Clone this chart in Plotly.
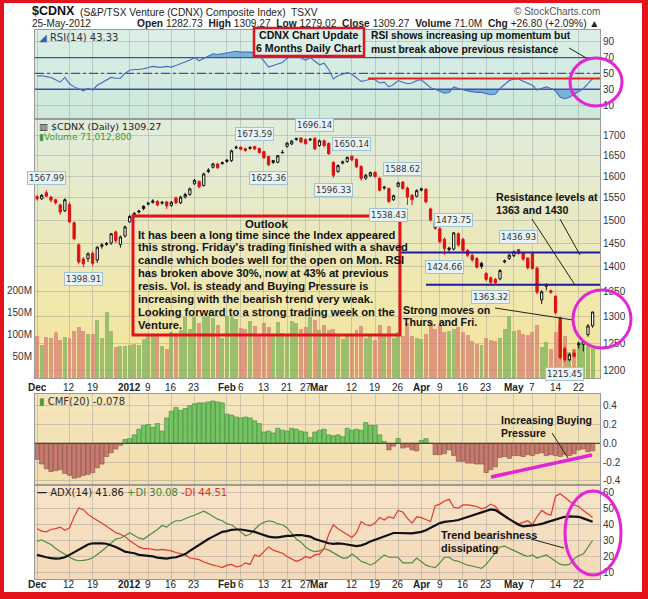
import numpy as np
import plotly.graph_objects as go

# ---------------- data ----------------
tick_idx = [0, 7, 12, 20, 24, 29, 34, 41, 44, 49, 54, 58, 61, 68, 73, 78, 83, 87, 92, 97, 103, 107, 112, 117]
tick_lbl = ['<b>Dec</b>', '12', '19', '<b>2012</b>', '9', '16', '23', '<b>Feb</b>', '6', '13', '21', '27',
            '<b>Mar</b>', '12', '19', '26', '<b>Apr</b>', '9', '16', '23', '<b>May</b>', '7', '14', '22']

opens = [1553, 1548, 1562, 1552, 1546, 1534, 1521, 1535, 1494, 1446,
         1416, 1417, 1428, 1414, 1443, 1447, 1450, 1474, 1447, 1465,
         1496, 1512, 1518, 1531, 1536, 1540, 1542, 1538, 1541, 1533,
         1550, 1539, 1552, 1558, 1583, 1588, 1579, 1612, 1622, 1630,
         1631, 1636, 1638, 1669, 1671, 1667, 1668, 1673, 1668, 1660,
         1648, 1638, 1634, 1657, 1673, 1679, 1690, 1694, 1690, 1689,
         1693, 1675, 1687, 1680, 1634, 1612, 1632, 1636, 1649, 1641,
         1624, 1596, 1602, 1610, 1596, 1573, 1572, 1546, 1577, 1587,
         1573, 1556, 1554, 1568, 1570, 1525, 1496, 1481, 1458, 1436,
         1437, 1470, 1458, 1434, 1424, 1417, 1407, 1386, 1377, 1374,
         1375, 1410, 1417, 1423, 1436, 1428, 1418, 1427, 1397, 1333,
         1360, 1351, 1340, 1298, 1240, 1220, 1232, 1247, 1248, 1266,
         1282.73]
highs = [1557, 1559, 1567.99, 1555, 1548, 1537, 1549, 1540, 1497, 1449,
         1420, 1430, 1432, 1443, 1450, 1452, 1472, 1477, 1466, 1488,
         1512, 1518, 1523, 1533, 1541, 1547, 1545, 1543, 1543, 1543,
         1553, 1555, 1562, 1574, 1594, 1591, 1609, 1620, 1633, 1633,
         1636, 1642, 1665, 1675, 1673, 1670, 1674, 1673.59, 1670, 1662,
         1650, 1640, 1652, 1664, 1684, 1689, 1694, 1696, 1693, 1694,
         1696.14, 1690, 1690, 1683, 1636, 1629, 1638, 1648, 1650.14, 1644,
         1627, 1606, 1612, 1612, 1598, 1578, 1574, 1558, 1588, 1588.62,
         1576, 1559, 1570, 1574, 1573, 1528, 1499, 1484, 1462, 1442,
         1473.75, 1473, 1461, 1437, 1427, 1420, 1410, 1389, 1380, 1377,
         1395, 1415, 1427, 1434, 1436.93, 1431, 1420, 1430, 1400, 1352,
         1366, 1353, 1342, 1300, 1244, 1232, 1238, 1253, 1256, 1286,
         1309.27]
lows = [1544, 1546, 1552, 1540, 1535, 1512, 1518, 1494, 1456, 1405,
        1398.91, 1410, 1402, 1408, 1438, 1444, 1446, 1450, 1440, 1462,
        1494, 1509, 1515, 1522, 1533, 1537, 1531, 1535, 1525, 1530,
        1536, 1536, 1549, 1555, 1580, 1572, 1576, 1608, 1619, 1618,
        1628, 1633, 1635, 1666, 1663, 1660, 1665, 1663, 1655, 1643,
        1625.36, 1630, 1632, 1656, 1670, 1676, 1687, 1681, 1677, 1686,
        1664, 1672, 1671, 1652, 1596.33, 1609, 1629, 1633, 1637, 1620,
        1590, 1592, 1599, 1597, 1565, 1569, 1538.43, 1543, 1574, 1569,
        1534, 1534, 1551, 1565, 1538, 1497, 1478, 1449, 1424.66, 1430,
        1434, 1442, 1431, 1420, 1410, 1396, 1396, 1370, 1363.32, 1364,
        1372, 1407, 1414, 1420, 1425, 1412, 1394, 1395, 1344, 1325,
        1352, 1345, 1305, 1220, 1215.45, 1217, 1224, 1240, 1235, 1262,
        1279.02]
closes = [1548, 1556, 1554, 1545, 1539, 1518, 1546, 1496, 1459, 1410,
          1406, 1427, 1407, 1441, 1446, 1449, 1470, 1455, 1463, 1485,
          1508, 1515, 1520, 1526, 1538, 1543, 1534, 1540, 1532, 1540,
          1539, 1552, 1558, 1571, 1591, 1576, 1606, 1615, 1630, 1621,
          1633, 1639, 1662, 1671, 1666, 1663, 1670, 1667, 1658, 1645,
          1628, 1634, 1650, 1658, 1681, 1686, 1693, 1684, 1680, 1691,
          1667, 1687, 1675, 1655, 1603, 1626, 1635, 1646, 1640, 1623,
          1596, 1603, 1609, 1600, 1568, 1575, 1542, 1555, 1585, 1572,
          1552, 1546, 1567, 1571, 1541, 1500, 1482, 1453, 1438, 1439,
          1472, 1446, 1434, 1424, 1414, 1399, 1401, 1374, 1368, 1367,
          1392, 1412, 1424, 1431, 1428, 1416, 1398, 1396, 1348, 1349,
          1362, 1348, 1308, 1224, 1220, 1229, 1226, 1249, 1253, 1282.47,
          1309.27]
volume_m = [95, 74, 93, 90, 105, 87, 93, 91, 108, 116,
            108, 100, 100, 131, 90, 150, 108, 71, 72, 73,
            76, 78, 76, 88, 100, 100, 98, 72, 66, 105,
            102, 110, 139, 112, 139, 125, 139, 140, 136, 120,
            92, 140, 139, 135, 114, 112, 130, 118, 100, 126,
            115, 95, 128, 102, 100, 130, 125, 112, 115, 138,
            132, 109, 120, 110, 112, 95, 88, 100, 95, 110,
            118, 92, 98, 86, 120, 100, 118, 92, 104, 96,
            125, 95, 92, 88, 99, 130, 112, 120, 105, 108,
            112, 115, 105, 97, 84, 78, 76, 90, 86, 84,
            92, 112, 142, 108, 110, 100, 98, 105, 120, 70,
            82, 66, 105, 125, 95, 59, 66, 82, 80, 78,
            71.0]
rsi14 = [47, 47, 46, 45, 42, 39, 45, 37, 33, 30,
         28, 31, 29, 35, 38, 41, 45, 44, 44, 50,
         54, 55, 55, 56, 58, 59, 58, 58, 59, 58,
         60, 62, 65, 67, 70, 66, 69, 72, 75, 74,
         75, 76, 77, 78, 77, 77, 77, 76, 72, 66,
         58, 60, 62, 64, 69, 73, 72, 70, 67, 70,
         65, 61, 63, 55, 43, 47, 49, 51, 49, 45,
         40, 41, 43, 42, 38, 39, 33, 36, 41, 39,
         37, 38, 41, 42, 37, 32, 30, 27, 25, 26,
         33, 31, 29, 28, 27, 26, 26, 24, 23, 24,
         31, 36, 41, 43, 43, 40, 37, 35, 29, 31,
         33, 31, 28, 20, 18, 20, 24, 27, 31, 37,
         43.33]
cmf20 = [-0.17, -0.22, -0.27, -0.30, -0.29, -0.28, -0.32, -0.34, -0.37, -0.36,
         -0.34, -0.33, -0.31, -0.26, -0.22, -0.14, -0.10, -0.06, -0.02, 0.04,
         0.05, 0.09, 0.15, 0.19, 0.20, 0.17, 0.21, 0.13, 0.27, 0.34,
         0.38, 0.35, 0.37, 0.40, 0.42, 0.43, 0.43, 0.44, 0.45, 0.44,
         0.43, 0.31, 0.30, 0.28, 0.27, 0.28, 0.27, 0.24, 0.21, 0.12,
         0.13, 0.11, 0.16, 0.14, 0.13, 0.16, 0.15, 0.13, 0.12, 0.06,
         0.12, 0.14, 0.15, 0.09, 0.08, 0.09, 0.07, 0.16, 0.14, 0.15,
         0.14, 0.22, 0.19, 0.19, 0.09, 0.02, -0.07, -0.03, 0.05, -0.05,
         -0.04, -0.07, -0.08, 0.03, 0.05, 0.00, -0.12, -0.12, -0.11, -0.07,
         -0.13, -0.19, -0.19, -0.21, -0.21, -0.22, -0.22, -0.31, -0.28, -0.25,
         -0.15, -0.14, -0.16, -0.13, -0.13, -0.14, -0.12, -0.13, -0.11, -0.10,
         -0.13, -0.12, -0.13, -0.14, -0.12, -0.13, -0.11, -0.07, -0.06, -0.09,
         -0.078]
adx14 = [21, 20, 19.5, 19, 18.6, 18.8, 19.5, 21, 22.5, 24.5,
         26, 27.5, 28.3, 28.5, 28.3, 28, 27, 26, 24.5, 23,
         22.5, 22, 21, 20.7, 20.5, 20, 19.3, 19, 18.7, 19.2,
         19.5, 20.5, 21.5, 23.5, 25.5, 27.5, 29.5, 31, 32.5, 34,
         35.5, 36, 36.8, 37, 37, 36.5, 36, 35.5, 34.5, 33.5,
         32.5, 32, 32, 32.5, 33, 33, 33.5, 33.5, 33.2, 32.5,
         31, 30, 29, 28.3, 28, 28.3, 28, 27.5, 27, 26.5,
         27, 28, 29.5, 30.5, 32, 33, 34, 34.8, 34.8, 34.7,
         34.7, 34.5, 35, 35.5, 36.5, 38, 39.5, 41, 41.8, 42,
         42.5, 43, 44, 45, 46, 47, 48, 49, 49.7, 49.2,
         47.5, 45.5, 43.5, 41.5, 40, 39, 39.5, 39.6, 40, 40.5,
         41.5, 42.5, 43, 44, 45, 45.3, 45.3, 45, 44, 43,
         41.86]
plus_di = [29.5, 30.5, 29, 27.5, 25, 23, 21, 19.5, 18, 17.3,
           17.5, 18, 19, 21, 23.5, 26, 28.5, 31, 31.6, 33,
           35, 33.5, 31.5, 31, 33, 34.5, 37, 39.5, 38.5, 41,
           42.5, 42.5, 44, 45, 46, 47.5, 48.5, 47, 45, 43.5,
           42.5, 40.5, 40, 38, 35.5, 33, 34, 37, 40, 41.5,
           42.5, 42, 40.5, 40, 38, 34.5, 31, 29, 26, 24,
           23, 23.5, 25, 24, 22.5, 20.5, 19, 19, 21.5, 19.5,
           17, 16, 14.5, 16, 18.5, 21, 19.5, 19.5, 19.5, 16,
           16, 16, 19, 17, 14.5, 13.5, 13, 16, 19.5, 19.5,
           17.5, 17, 15.5, 14.5, 14, 13, 12.5, 15, 18.5, 22,
           26, 26.5, 25, 24, 22, 21, 20, 21, 19, 20,
           21, 19, 17, 15, 14.5, 15, 18.5, 20.5, 21.5, 25.5,
           30.08]
minus_di = [37.5, 36, 35.5, 37, 37.5, 38.5, 36.5, 38, 45, 50.5,
            49.5, 46.5, 44.5, 43, 41, 39, 37, 35, 34, 32.5,
            30, 28, 26, 25, 25, 24.5, 24, 24.5, 24, 23.5,
            22.5, 21.5, 21, 19, 18.5, 18, 16.5, 15.5, 14.5, 14,
            13, 14.5, 15, 13.5, 14, 16, 15, 21, 20, 23,
            26, 24, 23, 22, 20, 18.5, 17, 18, 20, 19,
            21, 21.5, 25, 34, 40, 37.5, 35.5, 34, 32, 35,
            42, 40, 39.5, 41, 44.5, 43, 45, 44, 49, 48,
            44, 41, 45, 44.5, 43, 42, 52, 53, 55, 56,
            51, 50.5, 52.5, 52.5, 52, 51.5, 50, 51, 53, 51.5,
            48, 45, 43.5, 42, 40.5, 41.5, 42.5, 40, 45, 49,
            47, 46, 58, 59.5, 57.5, 55, 52.5, 51.5, 49, 46.5,
            44.51]

resist_levels = [1430, 1363]
resist_start_idx = [78.6, 84.0]
rsi_resist_level = 43.6
rsi_resist_start_idx = 71.5

# callouts: (index, value, above/below)
callouts = [(2, 1567.99, 'up'), (10, 1398.91, 'dn'), (47, 1673.59, 'up'), (50, 1625.36, 'dn'),
            (60, 1696.14, 'up'), (64, 1596.33, 'dn'), (68, 1650.14, 'up'), (76, 1538.43, 'dn'),
            (79, 1588.62, 'up'), (90, 1473.75, 'up'), (88, 1424.66, 'dn'), (104, 1436.93, 'up'),
            (98, 1363.32, 'dn'), (114, 1215.45, 'dn')]

# ---------------- geometry helpers ----------------
W, H = 648, 599
ML, MR = 35, 48
PW = W - ML - MR


def px(x):
    return (x - ML) / PW


def py(y):
    return 1 - y / H


SANS = "Liberation Sans, Arial, sans-serif"
DV = "DejaVu Sans, Verdana, sans-serif"

n = len(closes)
xi = np.arange(n)
o = np.array(opens, float)
h = np.array(highs, float)
lo = np.array(lows, float)
c = np.array(closes, float)
prev = np.r_[c[0] + 1, c[:-1]]
upday = c > prev

XR = [-0.45, 121.6]
GRID = 'rgba(150,150,150,0.40)'
AXL = '#9a9a9a'

fig = go.Figure()

# ---------- RSI panel ----------
rsi = np.array(rsi14, float)
fig.add_trace(go.Scatter(x=xi, y=np.full(n, 70.0), mode='lines', line=dict(width=0), xaxis='x', yaxis='y',
                         hoverinfo='skip', showlegend=False))
fig.add_trace(go.Scatter(x=xi, y=np.maximum(rsi, 70), mode='lines', line=dict(width=0), fill='tonexty',
                         fillcolor='rgba(95,165,210,0.8)', xaxis='x', yaxis='y', hoverinfo='skip', showlegend=False))
fig.add_trace(go.Scatter(x=xi, y=np.full(n, 30.0), mode='lines', line=dict(width=0), xaxis='x', yaxis='y',
                         hoverinfo='skip', showlegend=False))
fig.add_trace(go.Scatter(x=xi, y=np.minimum(rsi, 30), mode='lines', line=dict(width=0), fill='tonexty',
                         fillcolor='rgba(95,165,210,0.8)', xaxis='x', yaxis='y', hoverinfo='skip', showlegend=False))
for lvl, dash in [(70, 'solid'), (30, 'solid'), (50, 'dashdot')]:
    fig.add_trace(go.Scatter(x=XR, y=[lvl, lvl], mode='lines', line=dict(color='#3b4fb0', width=1.3, dash=dash),
                             xaxis='x', yaxis='y', hoverinfo='skip', showlegend=False))
fig.add_trace(go.Scatter(x=xi, y=rsi, mode='lines', line=dict(color='#4a6cc0', width=1.1),
                         xaxis='x', yaxis='y', showlegend=False))
fig.add_trace(go.Scatter(x=[rsi_resist_start_idx, XR[1]], y=[rsi_resist_level] * 2, mode='lines',
                         line=dict(color='#e8231a', width=2.2), xaxis='x', yaxis='y', showlegend=False))

# ---------- Volume (base axis of price panel) ----------
vol = np.array(volume_m) * 1e6
vcol = np.where(upday, 'rgba(130,180,95,0.78)', 'rgba(214,125,115,0.72)')
fig.add_trace(go.Bar(x=xi, y=vol, marker=dict(color=list(vcol), line=dict(width=0)), width=0.86,
                     xaxis='x2', yaxis='y2', showlegend=False))

# ---------- Price candles (overlay axis) ----------
for mask, col in [(upday, '#111111'), (~upday, '#dd1111')]:
    fig.add_trace(go.Candlestick(x=xi[mask], open=o[mask], high=h[mask], low=lo[mask], close=c[mask],
                                 increasing=dict(line=dict(color=col, width=1), fillcolor='white'),
                                 decreasing=dict(line=dict(color=col, width=1), fillcolor=col),
                                 whiskerwidth=0, xaxis='x2', yaxis='y3', showlegend=False))
for lvl, st in zip(resist_levels, resist_start_idx):
    fig.add_trace(go.Scatter(x=[st, XR[1]], y=[lvl, lvl], mode='lines', line=dict(color='#1b1ba6', width=2),
                             xaxis='x2', yaxis='y3', showlegend=False))

# ---------- CMF ----------
cmf = np.array(cmf20)
fig.add_trace(go.Bar(x=xi, y=cmf, width=0.92,
                     marker=dict(color=list(np.where(cmf >= 0, '#74c465', '#c57b6f')),
                                 line=dict(color=list(np.where(cmf >= 0, '#3e8a34', '#8c4c42')), width=0.6)),
                     xaxis='x3', yaxis='y4', showlegend=False))
fig.add_trace(go.Scatter(x=XR, y=[0, 0], mode='lines', line=dict(color='#444', width=1.4),
                         xaxis='x3', yaxis='y4', showlegend=False))

# ---------- ADX ----------
fig.add_trace(go.Scatter(x=xi, y=minus_di, mode='lines', line=dict(color='#e2392a', width=1.2),
                         xaxis='x4', yaxis='y5', showlegend=False))
fig.add_trace(go.Scatter(x=xi, y=plus_di, mode='lines', line=dict(color='#4f8b42', width=1.2),
                         xaxis='x4', yaxis='y5', showlegend=False))
fig.add_trace(go.Scatter(x=xi, y=adx14, mode='lines', line=dict(color='#111', width=2.2),
                         xaxis='x4', yaxis='y5', showlegend=False))

# ---------- axes ----------
dom_rsi = [py(118.5), py(30)]
dom_px = [py(378), py(118.5)]
dom_cmf = [py(484), py(394)]
dom_adx = [py(579), py(486)]
tickfont = dict(family=SANS, size=10, color='#333')


def xax(anchor):
    return dict(domain=[0, 1], range=XR, tickmode='array', tickvals=tick_idx, ticktext=tick_lbl,
                showticklabels=False, showgrid=True, gridcolor=GRID, gridwidth=1, zeroline=False,
                showline=True, mirror=True, linecolor=AXL, linewidth=1, ticks='', automargin=False,
                anchor=anchor, fixedrange=True, rangeslider=dict(visible=False))


def yax(dom, rng, vals, anchor, txt=None):
    d = dict(domain=dom, range=rng, tickmode='array', tickvals=vals, side='right', showgrid=True,
             gridcolor=GRID, zeroline=False, showline=True, mirror=True, linecolor=AXL, linewidth=1,
             ticks='', tickfont=tickfont, fixedrange=True, automargin=False, anchor=anchor)
    if txt is not None:
        d['ticktext'] = txt
    return d


price_ticks = list(range(1200, 1701, 50))
fig.update_layout(
    template='none',
    width=W, height=H, margin=dict(l=ML, r=MR, t=0, b=0, pad=0, autoexpand=False),
    paper_bgcolor='white', plot_bgcolor='rgba(0,0,0,0)', showlegend=False, bargap=0,
    xaxis=xax('y'),
    xaxis2=dict(xax('y2'), matches='x'),
    xaxis3=dict(xax('y4'), matches='x'),
    xaxis4=dict(xax('y5'), matches='x'),
    yaxis=yax(dom_rsi, [-7, 105], [10, 30, 50, 70, 90], 'x'),
    yaxis2=dict(domain=dom_px, range=[0, 590e6], tickmode='array', tickvals=[50e6, 100e6, 150e6, 200e6],
                ticktext=['50M', '100M', '150M', '200M'], side='left', showgrid=False, zeroline=False,
                showline=True, linecolor=AXL, ticks='', tickfont=tickfont, anchor='x2', fixedrange=True,
                automargin=False),
    yaxis3=dict(domain=dom_px, type='log', range=[np.log10(1187.3), np.log10(1743.5)], tickmode='array',
                tickvals=price_ticks, ticktext=[str(v) for v in price_ticks], side='right', overlaying='y2',
                showgrid=True, gridcolor=GRID, zeroline=False, showline=True, linecolor=AXL, ticks='',
                tickfont=tickfont, anchor='x2', fixedrange=True, automargin=False),
    yaxis4=yax(dom_cmf, [-0.432, 0.524], [-0.4, -0.2, 0, 0.2, 0.4], 'x3',
               ['-0.4', '-0.2', '0.0', '0.2', '0.4']),
    yaxis5=yax(dom_adx, [5.8, 64.4], [10, 20, 30, 40, 50, 60], 'x4'),
)

# ---------- background shapes ----------
shapes = []


def rect(x0, y0, x1, y1, fill, line=None, lw=0, layer='below'):
    shapes.append(dict(type='rect', xref='paper', yref='paper', x0=px(x0), x1=px(x1), y0=py(y1), y1=py(y0),
                       fillcolor=fill, line=dict(color=line or 'rgba(0,0,0,0)', width=lw), layer=layer))


def grad(y0, y1, c0, c1, steps):
    for k in range(steps):
        t = k / (steps - 1)
        col = 'rgb(%d,%d,%d)' % tuple(int(round(a + (b - a) * t)) for a, b in zip(c0, c1))
        ya = y0 + (y1 - y0) * k / steps
        yb = y0 + (y1 - y0) * (k + 1) / steps + 0.6
        rect(ML, ya, W - MR, yb, col)


grad(30, 118.5, (218, 238, 230), (206, 232, 220), 6)
grad(118.5, 378, (224, 236, 220), (247, 229, 152), 26)
grad(394, 484, (244, 229, 188), (242, 222, 174), 5)
grad(486, 579, (247, 226, 198), (244, 218, 186), 5)

# outer red frame
RED = '#e3121b'
rect(0, 0, 4, H, RED, layer='above')
rect(642, 0, W, H, RED, layer='above')
rect(0, 0, W, 3, RED, layer='above')
rect(0, 592, W, H, RED, layer='above')


def line(x0, y0, x1, y1, color='#222', width=1):
    shapes.append(dict(type='line', xref='paper', yref='paper', x0=px(x0), y0=py(y0), x1=px(x1), y1=py(y1),
                       line=dict(color=color, width=width), layer='above'))


def ellipse(cx, cy, rx, ry, color='#e524d6', width=3):
    shapes.append(dict(type='circle', xref='paper', yref='paper', x0=px(cx - rx), x1=px(cx + rx),
                       y0=py(cy + ry), y1=py(cy - ry), line=dict(color=color, width=width), layer='above'))


# box around "CDNX Chart Update"
shapes.append(dict(type='rect', xref='paper', yref='paper', x0=px(254), x1=px(364), y0=py(56), y1=py(28),
                   fillcolor='rgb(220,238,232)', line=dict(color=RED, width=2.5), layer='above'))
# Outlook box
shapes.append(dict(type='rect', xref='paper', yref='paper', x0=px(133), x1=px(400), y0=py(335), y1=py(216),
                   fillcolor='rgba(0,0,0,0)', line=dict(color=RED, width=3), layer='above'))

line(569, 48, 588, 59)                     # RSI note pointer
line(532, 219, 575, 285)                   # resistance pointers
line(560, 219, 580, 255)
line(495, 308, 573, 320)                   # strong moves pointer
line(552, 433, 568, 458)                   # buying pressure pointer
line(491, 477, 592, 455, color='#e524d6', width=3.5)
line(531, 539, 564, 548)                   # trend pointer
ellipse(596, 82, 26, 24)
ellipse(602, 319, 29, 29)
ellipse(593, 533, 28, 42)

fig.update_layout(shapes=shapes)

# ---------- annotations ----------
ann = []


def txt(x, y, s, size=11, color='#111', family=SANS, anchor='left', yanchor='middle', bold=False):
    if bold:
        s = '<b>' + s + '</b>'
    ann.append(dict(xref='paper', yref='paper', x=px(x), y=py(y), text=s, showarrow=False,
                    xanchor=anchor, yanchor=yanchor, font=dict(family=family, size=size, color=color),
                    borderpad=0, xshift=0))


# header
txt(31, 11, '<b>$CDNX</b>', size=12.5)
txt(79, 12, '(S&P/TSX Venture (CDNX) Composite Index)  TSXV', size=10.2, color='#222')
txt(601, 11, '© StockCharts.com', size=10, color='#555', anchor='right')
txt(31, 24, '25-May-2012', size=10, color='#222')
txt(600, 24, '<b>Open</b> 1282.73  <b>High</b> 1309.27  <b>Low</b> 1279.02  <b>Close</b> 1309.27  '
             '<b>Volume</b> 71.0M  <b>Chg</b> +26.80 (+2.09%) ▲', size=10.2, color='#222', anchor='right')

# legends
txt(38, 38, '<span style="color:#3a5fb0">◢</span> RSI(14) 43.33', size=10, family=DV, color='#333')
txt(38, 126, '▥ $CDNX (Daily) 1309.27', size=9.5, family=DV, color='#222')
txt(38, 137.5, '<span style="color:#4a9a3a">▮</span>Volume 71,012,800', size=9, family=DV, color='#4a9a3a')
txt(38, 401, '<span style="color:#4a9a3a">▮</span> CMF(20) -0.078', size=10, family=DV, color='#333')
txt(36, 492, '<b>—</b> ADX(14) 41.86 <span style="color:#3d8a32">+DI 30.08</span> '
             '<span style="color:#e0301f">-DI 44.51</span>', size=10, family=DV, color='#222')

# notes
txt(309, 35, 'CDNX Chart Update', size=10.6, bold=True, anchor='center')
txt(309, 48, '6 Months Daily Chart', size=10.6, bold=True, anchor='center')
txt(370, 36, 'RSI shows increasing up momentum but', size=10.3, bold=True)
txt(370, 49, 'must break above previous resistance', size=10.3, bold=True)

txt(266, 224, 'Outlook', size=11.3, bold=True, anchor='center')
outlook = ["It has been a long time since the Index appeared",
           "this strong. Friday's trading finished with a shaved",
           "candle which bodes well for the open on Mon. RSI",
           "has broken above 30%, now at 43% at previous",
           "resis. Vol. is steady and Buying Pressure is",
           "increasing with the bearish trend very weak.",
           "Looking forward to a strong trading week on the",
           "Venture."]
for k, s in enumerate(outlook):
    txt(137, 234.5 + 12.9 * k, s, size=11.2, bold=True)

txt(495, 197, 'Resistance levels at', size=10.7, bold=True)
txt(495, 210, '1363 and 1430', size=10.7, bold=True)
txt(402, 310, 'Strong moves on', size=10.7, bold=True)
txt(402, 322, 'Thurs. and Fri.', size=10.7, bold=True)
txt(500, 420, 'Increasing Buying', size=10.5, bold=True)
txt(500, 433, 'Pressure', size=10.5, bold=True)
txt(440, 535, 'Trend bearishness', size=10.9, bold=True)
txt(440, 548, 'dissipating', size=10.9, bold=True)

# date labels (two rows) on the shared x scale
for yrow in (387, 584):
    for tv, tl in zip(tick_idx, tick_lbl):
        ann.append(dict(xref='x', yref='paper', x=tv, y=py(yrow), text=tl, showarrow=False,
                        xanchor='center', yanchor='middle', font=dict(family=SANS, size=10, color='#222')))

# price callouts on the price axis
for i, v, pos in callouts:
    ann.append(dict(xref='x2', yref='y3', x=i, y=np.log10(v), text='%.2f' % v, showarrow=False,
                    xanchor='center', yanchor='bottom' if pos == 'up' else 'top',
                    yshift=5 if pos == 'up' else -5,
                    font=dict(family=DV, size=8.5, color='#333'), bgcolor='#e9f3f6',
                    bordercolor='#9fc3d6', borderwidth=1, borderpad=1))

fig.update_layout(annotations=ann)

fig.write_html("out.html", config={'displayModeBar': False, 'staticPlot': True},
               post_script="document.body.style.margin='0px';document.body.style.padding='0px';")
